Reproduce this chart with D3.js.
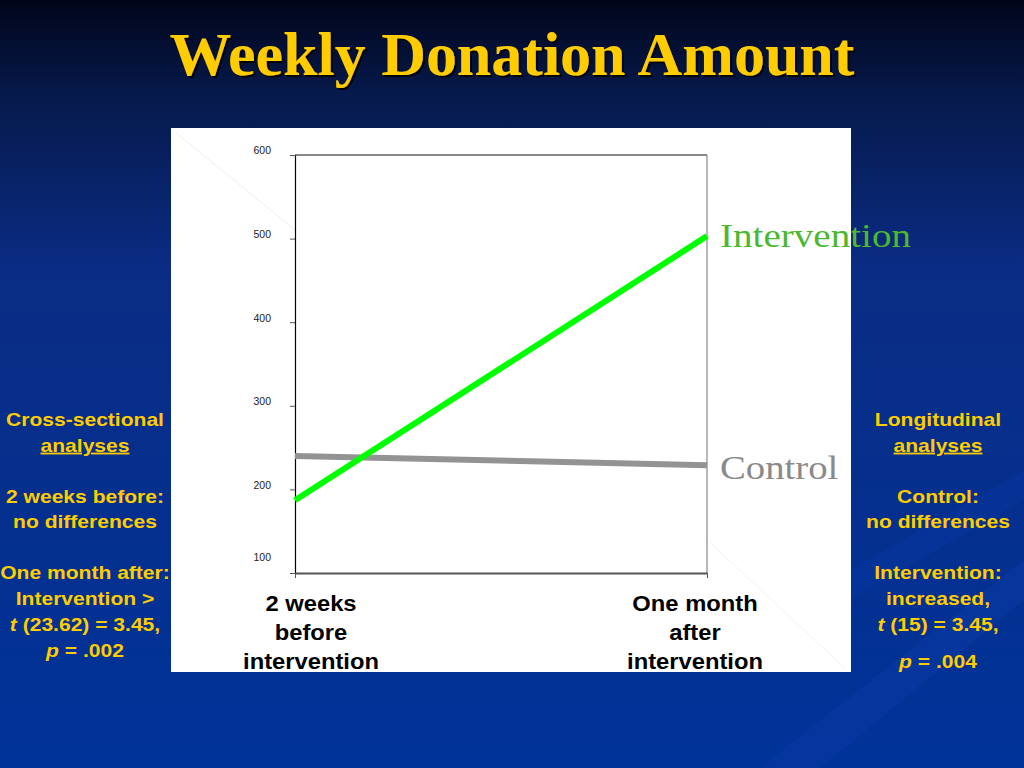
<!DOCTYPE html>
<html><head><meta charset="utf-8">
<script src="https://cdn.jsdelivr.net/npm/d3@7"></script>
<style>html,body{margin:0;padding:0;overflow:hidden;background:#003399}</style>
</head><body>
<svg id="c" width="1024" height="768"></svg>
<script>
const categories = ["2 weeks before intervention", "One month after intervention"];
const categoryLines = [["2 weeks","before","intervention"],["One month","after","intervention"]];
const seriesNames = ["Intervention", "Control"];
const interventionValues = [187, 503];
const controlValues = [240, 229];
const yTicks = [100, 200, 300, 400, 500, 600];
const title = "Weekly Donation Amount";
const leftNotes = [
  [{t:"Cross-sectional"}], [{t:"analyses", u:true}], null,
  [{t:"2 weeks before:"}], [{t:"no differences"}], null,
  [{t:"One month after:"}], [{t:"Intervention >"}],
  [{t:"t", i:true},{t:" (23.62) = 3.45,"}], [{t:"p", i:true},{t:" = .002"}]
];
const rightNotes = [
  [{t:"Longitudinal"}], [{t:"analyses", u:true}], null,
  [{t:"Control:"}], [{t:"no differences"}], null,
  [{t:"Intervention:"}], [{t:"increased,"}],
  [{t:"t", i:true},{t:" (15) = 3.45,"}], "gap", [{t:"p", i:true},{t:" = .004"}]
];

const svg = d3.select("#c");
const defs = svg.append("defs");
const bg = defs.append("linearGradient").attr("id","bg").attr("x1",0).attr("y1",0).attr("x2",0).attr("y2",1);
bg.append("stop").attr("offset","0").attr("stop-color","#01051a");
bg.append("stop").attr("offset","0.12").attr("stop-color","#06194a");
bg.append("stop").attr("offset","0.35").attr("stop-color","#0a2c84");
bg.append("stop").attr("offset","1").attr("stop-color","#003399");
svg.append("rect").attr("width",1024).attr("height",768).attr("fill","url(#bg)");
// faint streaks
svg.append("path").attr("d","M760,768 L1024,560 L1024,600 L820,768 Z").attr("fill","#0a3aa6").attr("opacity",0.5);
svg.append("path").attr("d","M850,570 L1024,470 L1024,500 L850,600 Z").attr("fill","#0a3aa6").attr("opacity",0.35);

const sh = defs.append("filter").attr("id","sh").attr("x","-5%").attr("y","-20%").attr("width","110%").attr("height","140%");
sh.append("feDropShadow").attr("dx",2).attr("dy",2).attr("stdDeviation",0.6).attr("flood-color","#000").attr("flood-opacity",0.9);

// title
const tt = svg.append("text").attr("x",512).attr("y",75).attr("text-anchor","middle")
  .attr("font-family","Liberation Serif, DejaVu Serif, serif").attr("font-weight","bold")
  .attr("font-size",52).attr("fill","#ffcc00").attr("filter","url(#sh)").text(title);
const tw = tt.node().getComputedTextLength();
tt.attr("font-size", 52*685/tw);

// panel
svg.append("rect").attr("x",171).attr("y",128).attr("width",680).attr("height",544).attr("fill","#ffffff");
svg.append("line").attr("x1",175).attr("y1",132).attr("x2",295).attr("y2",230).attr("stroke","#eeeeee").attr("stroke-width",1);
svg.append("line").attr("x1",707).attr("y1",540).attr("x2",845).attr("y2",668).attr("stroke","#f2f2f2").attr("stroke-width",1);

const x = d3.scalePoint().domain(categories).range([295, 707]);
const y = d3.scaleLinear().domain([100, 600]).range([573, 155]);

const g = svg.append("g");
// frame top & right
g.append("line").attr("x1",x.range()[0]).attr("x2",x.range()[1]).attr("y1",y(600)).attr("y2",y(600)).attr("stroke","#888").attr("stroke-width",2);
g.append("line").attr("x1",x.range()[1]).attr("x2",x.range()[1]).attr("y1",y(600)).attr("y2",y(100)).attr("stroke","#888").attr("stroke-width",1.2);

const yAxis = g.append("g").attr("transform",`translate(${x.range()[0]},0)`)
  .call(d3.axisLeft(y).tickValues(yTicks).tickSize(5).tickSizeOuter(0).tickFormat(d3.format("d")));
yAxis.select(".domain").attr("stroke","#000").attr("stroke-width",1.2);
yAxis.selectAll(".tick line").attr("stroke","#555");
yAxis.selectAll(".tick text").attr("font-family","Liberation Sans, Arial, sans-serif").attr("font-size",10.5)
  .attr("fill","#222").attr("x",-24).attr("dy", d => d === 100 ? "-1.2em" : "-0.1em");

const xAxis = g.append("g").attr("transform",`translate(0,${y(100)})`)
  .call(d3.axisBottom(x).tickSize(5).tickSizeOuter(0).tickFormat(""));
xAxis.select(".domain").attr("stroke","#555").attr("stroke-width",2);
xAxis.selectAll(".tick line").attr("stroke","#555");

// category labels
categoryLines.forEach((lines, i) => {
  const cx = x(categories[i]) + (i === 0 ? 16 : -12);
  lines.forEach((ln, j) => {
    svg.append("text").attr("transform",`translate(${cx},${611 + j*29}) scale(1.08,1)`).attr("text-anchor","middle")
      .attr("font-family","Liberation Sans, Arial, sans-serif").attr("font-weight","bold")
      .attr("font-size",22).attr("fill","#000").text(ln);
  });
});

// lines
const line = d3.line().x((d,i) => x(categories[i])).y(d => y(d));
g.append("path").datum(controlValues).attr("d", line).attr("fill","none").attr("stroke","#939393").attr("stroke-width",6);
g.append("path").datum(interventionValues).attr("d", line).attr("fill","none").attr("stroke","#00ff00").attr("stroke-width",6);

// series labels
svg.append("text").attr("transform",`translate(720,${y(interventionValues[1])+11}) scale(1.15,1)`).attr("font-family","Liberation Serif, DejaVu Serif, serif")
  .attr("font-size",34).attr("fill","#4cb830").text(seriesNames[0]);
svg.append("text").attr("transform",`translate(720,${y(controlValues[1])+14}) scale(1.14,1)`).attr("font-family","Liberation Serif, DejaVu Serif, serif")
  .attr("font-size",34).attr("fill","#8a8a8a").text(seriesNames[1]);

// notes
function notes(arr, cx) {
  let yy = 426;
  arr.forEach(parts => {
    if (parts && parts !== "gap") {
      const t = svg.append("text").attr("transform",`translate(${cx},${yy}) scale(1.17,1)`).attr("text-anchor","middle")
        .attr("font-family","Liberation Sans, Arial, sans-serif").attr("font-weight","bold")
        .attr("font-size",18).attr("fill","#ffcc00");
      parts.forEach(p => {
        t.append("tspan").text(p.t).attr("font-style", p.i ? "italic" : null)
          .attr("text-decoration", p.u ? "underline" : null);
      });
      yy += 25.7;
    } else if (parts === "gap") {
      yy += 11;
    } else {
      yy += 25.3;
    }
  });
}
notes(leftNotes, 85);
notes(rightNotes, 938);
</script>
</body></html>
